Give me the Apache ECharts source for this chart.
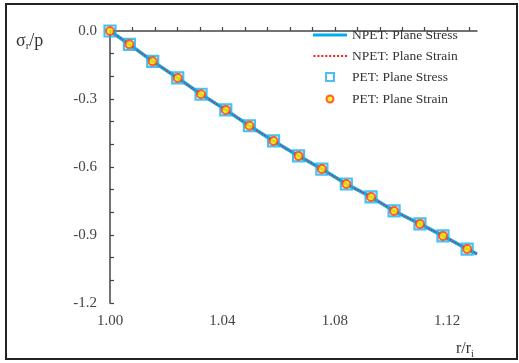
<!DOCTYPE html>
<html>
<head>
<meta charset="utf-8">
<script src="https://cdn.jsdelivr.net/npm/echarts@6/dist/echarts.min.js"></script>
<style>html,body{margin:0;padding:0;background:#fff}#c{width:519px;height:363px}</style>
</head>
<body>
<div id="c"></div>
<script>
// Data
var petX = [1.0000, 1.0069, 1.0152, 1.0241, 1.0324, 1.0412, 1.0496, 1.0582, 1.0671, 1.0754, 1.0841, 1.0929, 1.1011, 1.1103, 1.1185, 1.1271];
var petY = [0.000, -0.059, -0.134, -0.207, -0.279, -0.348, -0.418, -0.485, -0.551, -0.609, -0.675, -0.732, -0.794, -0.851, -0.904, -0.962];
var npetX = [1.0000, 1.0069, 1.0152, 1.0241, 1.0324, 1.0412, 1.0496, 1.0582, 1.0671, 1.0754, 1.0841, 1.0929, 1.1011, 1.1103, 1.1185, 1.1271, 1.1306];
var npetStressY = [0.000, -0.059, -0.134, -0.207, -0.279, -0.348, -0.418, -0.485, -0.551, -0.609, -0.675, -0.732, -0.794, -0.851, -0.904, -0.962, -0.984];
var npetStrainY = [0.000, -0.059, -0.134, -0.207, -0.279, -0.348, -0.418, -0.485, -0.551, -0.609, -0.675, -0.732, -0.794, -0.851, -0.904, -0.962, -0.984];
var seriesNames = ['NPET: Plane Stress', 'NPET: Plane Strain', 'PET: Plane Stress', 'PET: Plane Strain'];
var xTickValues = [1.000, 1.008, 1.016, 1.024, 1.032, 1.040, 1.048, 1.056, 1.064, 1.072, 1.080, 1.088, 1.096, 1.104, 1.112, 1.120, 1.128];
var xLabelValues = [1.00, 1.04, 1.08, 1.12];
var yTickValues = [0, -0.1, -0.2, -0.3, -0.4, -0.5, -0.6, -0.7, -0.8, -0.9, -1.0, -1.1, -1.2];
var yLabelValues = [0, -0.3, -0.6, -0.9, -1.2];

function pairs(xs, ys) { return xs.map(function (x, i) { return [x, ys[i]]; }); }

// legend icons (bounds fixed to a 34x14 box by the leading moves)
var BOX = 'M0,0 M34,14 ';
var dots = '';
for (var k = 0; k < 9; k++) { dots += 'M' + (k * 4 + 0.5) + ',6h2v2h-2z '; }
var ICON_SOLID = 'path://' + BOX + 'M0,5.5h34v3h-34z';
var ICON_DOTTED = 'path://' + BOX + dots;
var ICON_SQUARE = 'path://' + BOX + 'M12,2h10v10h-10z M14,4v6h6v-6z';
var ICON_CIRCLE = 'path://' + BOX + 'M17,3.5a3.5,3.5 0 1,0 0.01,0z';

var FONT = '"Liberation Serif", "Times New Roman", serif';
var chart = echarts.init(document.getElementById('c'), null, { renderer: 'canvas' });
chart.setOption({
  animation: false,
  backgroundColor: '#fff',
  grid: { left: 110, top: 31, right: 42, bottom: 60, containLabel: false },
  xAxis: {
    type: 'value', min: 1.0, max: 1.1306,
    axisLine: { show: true, lineStyle: { color: '#444', width: 1.5 } },
    axisTick: { show: true, inside: true, length: 4, customValues: xTickValues, lineStyle: { color: '#444', width: 1.2 } },
    axisLabel: { customValues: xLabelValues, formatter: function (v) { return v.toFixed(2); }, color: '#444', fontFamily: FONT, fontSize: 15, margin: 11 },
    splitLine: { show: false }
  },
  yAxis: {
    type: 'value', min: -1.2, max: 0,
    axisLine: { show: true, lineStyle: { color: '#444', width: 1.5 } },
    axisTick: { show: true, inside: true, length: 4, customValues: yTickValues, lineStyle: { color: '#444', width: 1.2 } },
    axisLabel: { customValues: yLabelValues, formatter: function (v) { return v.toFixed(1); }, color: '#444', fontFamily: FONT, fontSize: 15, margin: 13 },
    splitLine: { show: false }
  },
  legend: {
    orient: 'vertical', left: 312, top: 28, padding: 0,
    itemWidth: 34, itemHeight: 14, itemGap: 7,
    textStyle: { fontFamily: FONT, fontSize: 13.5, color: '#333' },
    data: [
      { name: seriesNames[0], icon: ICON_SOLID, itemStyle: { color: '#00aeef', borderWidth: 0 } },
      { name: seriesNames[1], icon: ICON_DOTTED, itemStyle: { color: '#ff1a1a', borderWidth: 0 } },
      { name: seriesNames[2], icon: ICON_SQUARE, itemStyle: { color: '#1ab0ee', borderWidth: 0 } },
      { name: seriesNames[3], icon: ICON_CIRCLE, itemStyle: { color: '#ffee00', borderColor: '#ff3b1a', borderWidth: 2 } }
    ]
  },
  series: [
    { name: seriesNames[0], type: 'line', data: pairs(npetX, npetStressY), symbol: 'none',
      lineStyle: { color: '#00aeef', width: 3.5 }, itemStyle: { color: '#00aeef' }, z: 2 },
    { name: seriesNames[1], type: 'line', data: pairs(npetX, npetStrainY), symbol: 'none',
      lineStyle: { color: '#ff1a1a', width: 1.5, type: 'dotted' }, itemStyle: { color: '#ff1a1a' }, z: 3 },
    { name: seriesNames[2], type: 'scatter', data: pairs(petX, petY), symbol: 'rect', symbolSize: 11,
      itemStyle: { color: 'rgba(255,255,255,0)', borderColor: '#1ab0ee', borderWidth: 2.2 }, z: 4 },
    { name: seriesNames[3], type: 'scatter', data: pairs(petX, petY), symbol: 'circle', symbolSize: 8,
      itemStyle: { color: '#ffee00', borderColor: '#ff3b1a', borderWidth: 2 }, z: 5 }
  ],
  graphic: [
    { type: 'rect', shape: { x: 6, y: 4, width: 511, height: 355 }, style: { fill: 'none', stroke: '#222', lineWidth: 2 }, silent: true },
    { type: 'text', left: 16, top: 32, style: {
        text: '{a|σ}{b|r}{a|/p}',
        rich: { a: { fontFamily: FONT, fontSize: 18, fill: '#333' }, b: { fontFamily: FONT, fontSize: 11, fill: '#333', padding: [11, 0, 0, 0] } }
      } },
    { type: 'text', left: 456, top: 341, style: {
        text: '{a|r/r}{b|i}',
        rich: { a: { fontFamily: FONT, fontSize: 16, fill: '#333' }, b: { fontFamily: FONT, fontSize: 10, fill: '#333', padding: [10, 0, 0, 0] } }
      } }
  ]
});
</script>
</body>
</html>
